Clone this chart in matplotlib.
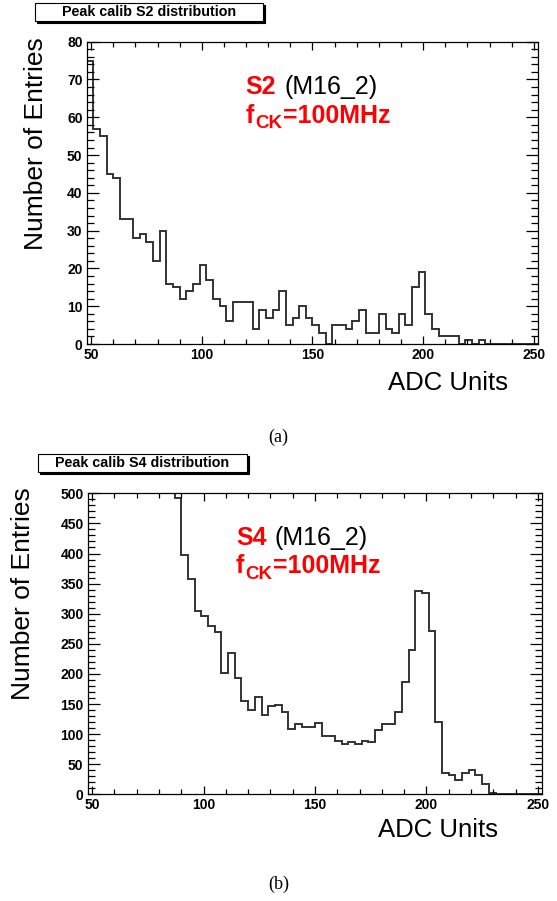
import numpy as np
import matplotlib.pyplot as plt
from matplotlib.patches import Rectangle

plt.rcParams['font.family'] = 'Liberation Sans'

# 3 ADC-unit bins from 48 to 252
bin_edges = np.arange(48, 255, 3)

counts_s2 = [75, 57, 55, 45, 44, 33, 33, 28, 29, 27, 22, 30, 16, 15, 12, 14, 16,
             21, 17, 12, 10, 6, 11, 11, 11, 4, 9, 7, 9, 14, 5, 7, 10, 7, 5, 3,
             0, 5, 5, 4, 6, 9, 3, 3, 8, 4, 3, 8, 5, 15, 19, 8, 4, 2, 2, 2, 0, 1,
             0, 1, 0, 0, 0, 0, 0, 0, 0, 0]

counts_s4 = [2400, 2100, 1850, 1600, 1400, 1250, 1100, 980, 870, 780, 700, 630,
             560, 492, 397, 358, 305, 296, 280, 269, 202, 234, 194, 155, 140,
             162, 132, 147, 148, 137, 108, 116, 111, 111, 119, 97, 97, 88, 84,
             87, 84, 88, 87, 107, 116, 116, 137, 187, 240, 337, 334, 271, 120,
             36, 32, 24, 36, 40, 32, 17, 2, 1, 0, 0, 0, 1, 0, 0]

W, H = 557, 901
fig = plt.figure(figsize=(W / 100, H / 100), dpi=100)


def px_rect(x0, y0, x1, y1):
    # pixel box (origin top-left) -> figure fraction rect
    return [x0 / W, 1 - y1 / H, (x1 - x0) / W, (y1 - y0) / H]


def title_box(x0, y0, x1, y1, text):
    l, b, w, h = px_rect(x0, y0, x1, y1)
    fig.add_artist(Rectangle((l + 2 / W, b - 2 / H), w, h, transform=fig.transFigure,
                             fc='black', ec='black', lw=0.8))
    fig.add_artist(Rectangle((l, b), w, h, transform=fig.transFigure,
                             fc='white', ec='black', lw=0.8))
    fig.text(l + w / 2, b + h / 2, text, ha='center', va='center',
             fontsize=10.3, fontweight='bold')


def panel(box, counts, ymax, ystep, ysub, sig, ylab_xy, xlab_xy, txt_x, txt_y):
    ax = fig.add_axes(px_rect(*box))
    ax.stairs(counts, bin_edges, color='#333333', lw=1.4)
    ax.set_xlim(bin_edges[0], bin_edges[-1])
    ax.set_ylim(0, ymax)
    ax.set_xticks([50, 100, 150, 200, 250])
    ax.set_xticks(np.arange(50, 251, 10), minor=True)
    ax.set_yticks(np.arange(0, ymax + 1, ystep))
    ax.set_yticks(np.arange(0, ymax + 1, ysub), minor=True)
    ax.tick_params(which='both', direction='in', top=True, right=True,
                   width=0.9, labelsize=10, pad=3)
    ax.tick_params(axis='x', which='major', length=5.5)
    ax.tick_params(axis='x', which='minor', length=3.5)
    ax.tick_params(axis='y', which='major', length=8.5)
    ax.tick_params(axis='y', which='minor', length=5)
    for lab in ax.get_xticklabels() + ax.get_yticklabels():
        lab.set_fontweight('bold')
    for s in ax.spines.values():
        s.set_linewidth(0.9)

    ax.set_ylabel('Number of Entries', fontsize=19)
    ax.yaxis.set_label_coords(*ylab_xy)
    ax.text(xlab_xy[0], xlab_xy[1], 'ADC Units', fontsize=18.5, ha='right',
            va='center', transform=ax.transAxes)

    # signal name and module
    t = ax.text(txt_x, txt_y[0], sig, color='red', fontweight='bold',
                fontsize=18, transform=ax.transAxes, va='baseline')
    ax.annotate('(M16_2)', xy=(1, 0), xycoords=t, xytext=(6, 0),
                textcoords='offset points', va='bottom', fontsize=18)

    # clock frequency, f with CK subscript
    tf = ax.text(txt_x, txt_y[1], 'f', color='red', fontweight='bold',
                 fontsize=18, transform=ax.transAxes, va='baseline')
    tck = ax.annotate('CK', xy=(1, 0), xycoords=tf, xytext=(0.6, -3.2),
                      textcoords='offset points', va='bottom', color='red',
                      fontweight='bold', fontsize=13.5)
    ax.annotate('=100MHz', xy=(1, 0), xycoords=tck, xytext=(0.6, 3.2),
                textcoords='offset points', va='bottom', color='red',
                fontweight='bold', fontsize=18)
    return ax


panel((86.7, 41.7, 538.3, 344.0), counts_s2, 80, 10, 2, 'S2',
      (-0.086, 0.662), (0.933, -0.129), 0.352, (0.827, 0.731))
panel((87.7, 493.3, 542.3, 794.3), counts_s4, 500, 50, 10, 'S4',
      (-0.116, 0.667), (0.9025, -0.1186), 0.326, (0.828, 0.735))

title_box(34.5, 3.3, 263.0, 20.7, 'Peak calib S2 distribution')
title_box(38.0, 454.0, 247.0, 471.7, 'Peak calib S4 distribution')

fig.text(0.5, 1 - 437 / H, '(a)', family='Liberation Serif', fontsize=13,
         ha='center', va='center')
fig.text(0.5, 1 - 884 / H, '(b)', family='Liberation Serif', fontsize=13,
         ha='center', va='center')

fig.savefig('out.png', dpi=100)
